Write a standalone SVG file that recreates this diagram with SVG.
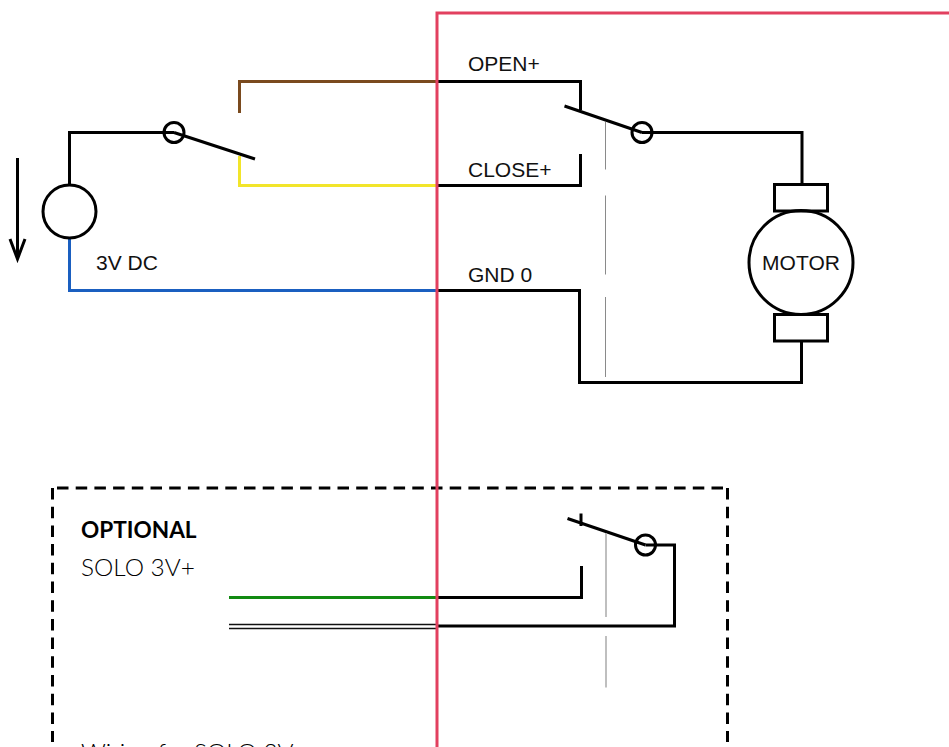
<svg xmlns="http://www.w3.org/2000/svg" width="949" height="747" viewBox="0 0 949 747">
<style>
.w{fill:none;stroke:#000;stroke-width:3}
.c{fill:none;stroke:#000;stroke-width:3}
.d{fill:none;stroke:#000;stroke-width:3;stroke-dasharray:11.500 7.200}
.g{fill:none;stroke:#8a8a8a;stroke-width:1}
.g2{fill:none;stroke:#aaa;stroke-width:1.500}
.t{font-family:"Liberation Sans",Arial,sans-serif;font-size:21px;fill:#111}
.o{font-family:Lato,"Open Sans",sans-serif;font-size:24.400px;font-weight:300;fill:#000}
.b{font-family:Lato,"Open Sans",sans-serif;font-size:22.600px;font-weight:700;fill:#000}
</style>
<rect width="949" height="747" fill="#fff"/>
<g id="optional-box"><path class="d" d="M57 488H723"/><path class="d" d="M52.500 488V742"/><path class="d" d="M727.500 488V742"/></g>
<g id="connectors">
<path class="c" style="stroke:#7a4a1e" d="M239.500 113V81.500H437"/>
<path class="c" style="stroke:#f2e52a" d="M239.500 156V185.500H437"/>
<path class="c" style="stroke:#1a5fc0" d="M69.500 238V290.500H437"/>
<path class="w" d="M69.500 185V132.500H174"/>
<path class="w" d="M174 132.500L255 159"/>
<path class="w" d="M437 81.500H580.500V110"/>
<path class="w" d="M437 185.500H580.500V154"/>
<path class="w" d="M564.500 106L642 132.500"/>
<path class="w" d="M642 132.500H802V184.500"/>
<path class="w" d="M437 290.500H579.500V382.500H801.500V341"/>
<path class="g" d="M605.500 122V169.500M605.500 195.500V274.500M605.500 297V377"/>
<path class="w" d="M17.500 158V259M10 239L17.500 259L25 239"/>
<path class="c" style="stroke:#128a12" d="M229 597.500H437"/>
<path d="M229 624.500H437M229 628.500H437" fill="none" stroke="#111" stroke-width="1.300"/>
<path class="w" d="M437 597.500H581.500V566"/>
<path class="w" d="M437 626H674.500V545H645.500"/>
<path class="w" d="M567.500 518.500L645.500 545"/>
<path class="w" d="M581 513.500V526"/>
<path class="g2" d="M606 533V617M606 636V687.500"/>
</g>
<g id="battery"><circle class="c" cx="69.500" cy="211.500" r="26.500"/><text class="t" x="96" y="270">3V DC</text></g>
<g id="switch-left"><circle class="c" cx="174" cy="132.500" r="10"/></g>
<g id="switch-right"><circle class="c" cx="642" cy="132.500" r="10"/></g>
<g id="switch-optional"><circle class="c" cx="645.500" cy="545" r="10"/></g>
<g id="motor">
<rect class="c" x="774.500" y="184.500" width="53" height="26.500"/>
<rect class="c" x="774.500" y="314.500" width="53" height="26.500"/>
<circle class="c" cx="801" cy="262.500" r="52"/>
<text class="t" x="801" y="270" text-anchor="middle">MOTOR</text>
</g>
<g id="labels">
<text class="t" x="468" y="71">OPEN+</text>
<text class="t" x="468" y="177">CLOSE+</text>
<text class="t" x="468" y="282">GND 0</text>
<text class="b" x="81" y="538">OPTIONAL</text>
<text class="o" x="81" y="576">SOLO 3V+</text>
<text class="o" x="81" y="760.500">Wiring for SOLO 3V+</text>
</g>
<path id="boundary" d="M437 747V13H949" fill="none" stroke="#e2405f" stroke-width="3"/>
</svg>
